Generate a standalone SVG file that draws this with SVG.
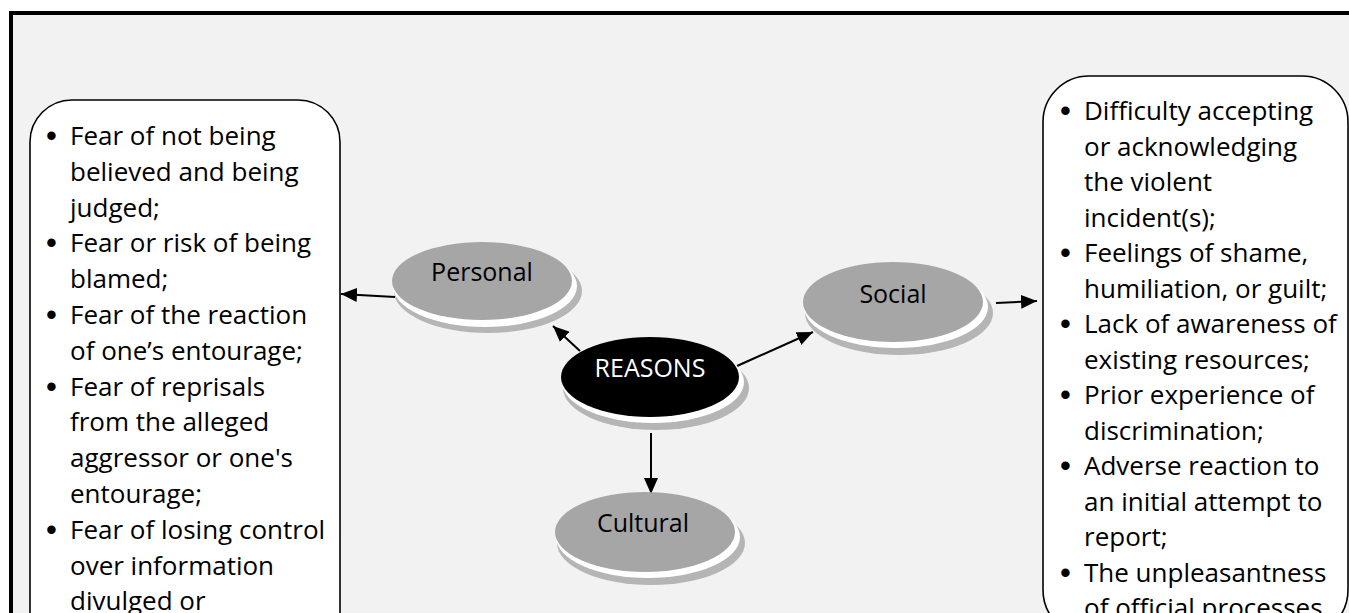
<svg xmlns="http://www.w3.org/2000/svg" width="1349" height="613" viewBox="0 0 1349 613">
<defs>
<style>
.t{font-family:"Open Sans","Noto Sans","Liberation Sans",sans-serif;font-size:26px;fill:#000}
.b{font-family:"Liberation Sans",sans-serif;font-size:31px;fill:#000}
.lbl{font-family:"Open Sans","Noto Sans","Liberation Sans",sans-serif;font-size:25px;text-anchor:middle}
.box{fill:#fff;stroke:#000;stroke-width:1.6}
.sh{fill:#b5b5b5}
.halo{fill:#fff}
.g{fill:#a6a6a6}
.k{fill:#000}
.c{stroke:#000;stroke-width:2;fill:none;marker-end:url(#ah)}
</style>
<marker id="ah" markerUnits="userSpaceOnUse" markerWidth="18" markerHeight="14" refX="16" refY="7" orient="auto">
<path d="M0,0 L16,7 L0,14 z" fill="#000"/>
</marker>
</defs>
<rect x="0" y="0" width="1349" height="613" fill="#fff"/>
<rect x="11" y="13" width="1360" height="640" fill="#f2f2f2" stroke="#000" stroke-width="4"/>

<g id="box-personal">
<rect class="box" x="30" y="100" width="310" height="560" rx="42" ry="42"/>
<g class="b">
<text x="46" y="146">•</text>
<text x="46" y="253.4">•</text>
<text x="46" y="325">•</text>
<text x="46" y="396.6">•</text>
<text x="46" y="539.8">•</text>
</g>
<g class="t">
<text x="70" y="145">Fear of not being</text>
<text x="70" y="180.8">believed and being</text>
<text x="70" y="216.6">judged;</text>
<text x="70" y="252.4">Fear or risk of being</text>
<text x="70" y="288.2">blamed;</text>
<text x="70" y="324">Fear of the reaction</text>
<text x="70" y="359.8">of one’s entourage;</text>
<text x="70" y="395.6">Fear of reprisals</text>
<text x="70" y="431.4">from the alleged</text>
<text x="70" y="467.2">aggressor or one's</text>
<text x="70" y="503">entourage;</text>
<text x="70" y="538.8">Fear of losing control</text>
<text x="70" y="574.6">over information</text>
<text x="70" y="610.4">divulged or</text>
</g>
</g>

<g id="box-social">
<rect class="box" x="1043" y="76" width="305" height="560" rx="46" ry="46"/>
<g class="b">
<text x="1060" y="121">•</text>
<text x="1060" y="263">•</text>
<text x="1060" y="334">•</text>
<text x="1060" y="405">•</text>
<text x="1060" y="476">•</text>
<text x="1060" y="582.5">•</text>
</g>
<g class="t">
<text x="1084" y="120">Difficulty accepting</text>
<text x="1084" y="155.5">or acknowledging</text>
<text x="1084" y="191">the violent</text>
<text x="1084" y="226.5">incident(s);</text>
<text x="1084" y="262">Feelings of shame,</text>
<text x="1084" y="297.5">humiliation, or guilt;</text>
<text x="1084" y="333">Lack of awareness of</text>
<text x="1084" y="368.5">existing resources;</text>
<text x="1084" y="404">Prior experience of</text>
<text x="1084" y="439.5">discrimination;</text>
<text x="1084" y="475">Adverse reaction to</text>
<text x="1084" y="510.5">an initial attempt to</text>
<text x="1084" y="546">report;</text>
<text x="1084" y="581.5">The unpleasantness</text>
<text x="1084" y="617">of official processes</text>
</g>
</g>

<g id="connectors">
<line class="c" x1="580" y1="351" x2="553" y2="326"/>
<line class="c" x1="737" y1="366" x2="813" y2="332"/>
<line class="c" x1="651" y1="433" x2="651" y2="494"/>
<line class="c" x1="395" y1="297" x2="341" y2="294"/>
<line class="c" x1="996" y1="303" x2="1037" y2="301"/>
</g>

<g id="node-personal">
<ellipse class="sh" cx="488" cy="291" rx="94" ry="42"/>
<ellipse class="halo" cx="485" cy="286" rx="92" ry="41"/>
<ellipse class="g" cx="482" cy="281" rx="90" ry="39"/>
<text class="lbl" x="482" y="281">Personal</text>
</g>

<g id="node-reasons">
<ellipse class="sh" cx="656" cy="388" rx="93" ry="42"/>
<ellipse class="halo" cx="653" cy="382" rx="91" ry="41"/>
<ellipse class="k" cx="650" cy="377" rx="89" ry="40"/>
<text class="lbl" x="650" y="377" fill="#fff">REASONS</text>
</g>

<g id="node-social">
<ellipse class="sh" cx="899" cy="313" rx="94" ry="42"/>
<ellipse class="halo" cx="896" cy="307" rx="92" ry="41"/>
<ellipse class="g" cx="893" cy="302" rx="90" ry="40"/>
<text class="lbl" x="893" y="303">Social</text>
</g>

<g id="node-cultural">
<ellipse class="sh" cx="651" cy="543" rx="94" ry="42"/>
<ellipse class="halo" cx="648" cy="537" rx="92" ry="41"/>
<ellipse class="g" cx="645" cy="532" rx="90" ry="40"/>
<text class="lbl" x="643" y="532">Cultural</text>
</g>
</svg>
